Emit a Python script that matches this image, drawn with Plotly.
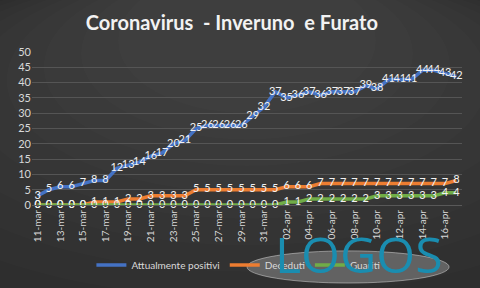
import plotly.graph_objects as go

dates = ["11-mar","12-mar","13-mar","14-mar","15-mar","16-mar","17-mar","18-mar","19-mar","20-mar",
         "21-mar","22-mar","23-mar","24-mar","25-mar","26-mar","27-mar","28-mar","29-mar","30-mar",
         "31-mar","01-apr","02-apr","03-apr","04-apr","05-apr","06-apr","07-apr","08-apr","09-apr",
         "10-apr","11-apr","12-apr","13-apr","14-apr","15-apr","16-apr","17-apr"]
positivi = [3,5,6,6,7,8,8,12,13,14,16,17,20,21,25,26,26,26,26,29,32,37,35,36,37,36,37,37,37,39,38,41,41,41,44,44,43,42]
deceduti = [0,0,0,0,0,1,1,1,2,2,3,3,3,3,5,5,5,5,5,5,5,5,6,6,6,7,7,7,7,7,7,7,7,7,7,7,7,8]
guariti = [0,0,0,0,0,0,0,0,0,0,0,0,0,0,0,0,0,0,0,0,0,0,1,1,2,2,2,2,2,2,3,3,3,3,3,3,4,4]
tick_labels = dates[::2]
y_ticks = [0,5,10,15,20,25,30,35,40,45,50]

font_family = "Lato, 'Open Sans', sans-serif"

fig = go.Figure()
series = [
    ("Attualmente positivi", positivi, "#4472C4"),
    ("Deceduti", deceduti, "#ED7D31"),
    ("Guariti", guariti, "#70AD47"),
]
for name, vals, col in series:
    fig.add_trace(go.Scatter(
        x=dates, y=vals, name=name, mode="lines+text",
        line=dict(color=col, width=3.5),
        text=[str(v) for v in vals], textposition="middle center",
        textfont=dict(color="#f2f2f2", size=11, family=font_family),
        cliponaxis=False,
    ))

fig.update_layout(
    width=480, height=288,
    margin=dict(l=32, r=18, t=52, b=83, autoexpand=False),
    paper_bgcolor="#262626", plot_bgcolor="rgba(0,0,0,0)",
    title=dict(text="<b>Coronavirus  - Inveruno  e Furato</b>", x=0.483, xanchor="center",
               y=0.92, yanchor="middle",
               font=dict(color="#f2f2f2", size=20, family=font_family)),
    showlegend=True,
    legend=dict(orientation="h", x=0.48, xanchor="center", yref="container", y=0.08, yanchor="middle",
                font=dict(color="#d9d9d9", size=10, family=font_family),
                bgcolor="rgba(0,0,0,0)", itemwidth=30),
    xaxis=dict(type="category", tickmode="array", tickvals=tick_labels, ticktext=tick_labels,
               tickangle=-90, tickfont=dict(color="#d9d9d9", size=10, family=font_family),
               showgrid=False, showline=True, linecolor="#595959", ticks="",
               range=[-0.5, len(dates) - 0.5]),
    yaxis=dict(range=[0, 50], tickvals=y_ticks, tickfont=dict(color="#d9d9d9", size=11, family=font_family),
               gridcolor="#555555", gridwidth=1, zeroline=False, showline=False, ticks=""),
)

# soft radial lightening toward the top centre (background)
n = 12
for k in range(n):
    t = k / (n - 1)
    hw = 1.25 - 0.95 * t
    y0 = -1.3 + 1.9 * t
    fig.add_shape(type="circle", xref="paper", yref="paper", x0=0.5 - hw, x1=0.5 + hw, y0=y0, y1=1.55,
                  fillcolor="rgba(255,255,255,0.013)", line=dict(width=0), layer="below")

# watermark
fig.add_shape(type="circle", xref="paper", yref="paper", x0=0.5, x1=0.97, y0=-0.51, y1=-0.3,
              fillcolor="rgba(200,200,200,0.33)", line=dict(color="rgba(220,220,220,0.5)", width=1), layer="above")
fig.add_annotation(text="LOGOS", xref="paper", yref="paper", x=0.76, y=-0.32, xanchor="center",
                   yanchor="middle", showarrow=False,
                   font=dict(color="#1a8db0", size=50, family="'Open Sans', sans-serif"))

fig.write_html("out.html")
